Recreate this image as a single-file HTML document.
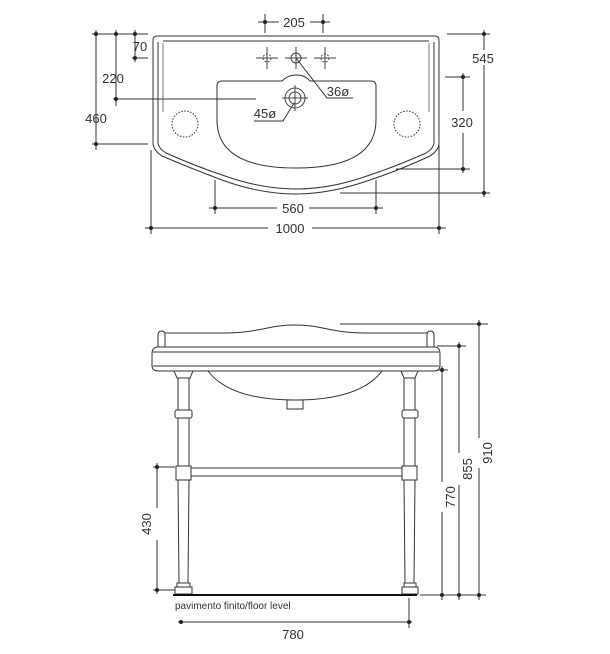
<!DOCTYPE html>
<html><head><meta charset="utf-8"><style>
html,body{margin:0;padding:0;background:#fff;}
svg{display:block;}
text{font-family:"Liberation Sans",sans-serif;fill:#333;}
</style></head><body>
<svg width="610" height="654" viewBox="0 0 610 654" xmlns="http://www.w3.org/2000/svg">
<g fill="none" stroke="#333" stroke-width="1">
<!-- TOP VIEW outline -->
<path d="M153,40 Q153,36 157,36 L435,36 Q439,36 439,40 L439,143 Q439,150 430,156 Q400,170 370,180 Q330,194 296,194 Q260,194 222,180 Q190,168 162,156 Q153,150 153,143 Z"/>
<path d="M158,42 L158,142 Q158,148 166,153 Q195,166 225,176 Q262,189 296,189 Q330,189 367,176 Q397,166 426,153 Q434,148 434,142 L434,42"/>
<line x1="163" y1="41" x2="429" y2="41" stroke="#777" stroke-width="1.6"/>
<line x1="163" y1="43" x2="163" y2="112" stroke="#777"/>
<line x1="429" y1="43" x2="429" y2="112" stroke="#777"/>
<!-- basin -->
<path d="M222,81 L282,81 Q288,75 296,75 Q305,75 310,81 L371,81 Q376,81 376,86 L376,120 Q376,168 296,168 Q217,168 217,120 L217,86 Q217,81 222,81 Z"/>
<!-- taps -->
<g stroke="#444">
<circle cx="267" cy="58" r="4" stroke-dasharray="2,1.5"/><line x1="256" y1="58" x2="278" y2="58"/><line x1="267" y1="47" x2="267" y2="69"/>
<circle cx="296" cy="58" r="5"/><line x1="285" y1="58" x2="307" y2="58"/><line x1="296" y1="47" x2="296" y2="69"/>
<circle cx="325" cy="58" r="4" stroke-dasharray="2,1.5"/><line x1="314" y1="58" x2="336" y2="58"/><line x1="325" y1="47" x2="325" y2="69"/>
<circle cx="295" cy="98" r="10"/><circle cx="295" cy="98" r="6"/>
<line x1="282" y1="98" x2="308" y2="98"/><line x1="295" y1="85" x2="295" y2="111"/>
</g>
<circle cx="185" cy="124" r="13" stroke-dasharray="1.5,1.5"/>
<circle cx="407" cy="124" r="13" stroke-dasharray="1.5,1.5"/>
<!-- leaders -->
<polyline points="296,58 327,98 353,98"/>
<polyline points="294,103 283,121 254,121"/>
<!-- dims top -->
<line x1="265" y1="14" x2="265" y2="33"/><line x1="323" y1="14" x2="323" y2="33"/>
<line x1="258" y1="22" x2="279" y2="22"/><line x1="310" y1="22" x2="330" y2="22"/>
<line x1="96" y1="30" x2="96" y2="150"/><line x1="116" y1="30" x2="116" y2="106"/><line x1="135" y1="30" x2="135" y2="62"/>
<line x1="92" y1="34" x2="148" y2="34"/>
<line x1="132" y1="58" x2="148" y2="58"/>
<line x1="113" y1="99" x2="256" y2="99"/>
<line x1="92" y1="144" x2="148" y2="144"/>
<line x1="447" y1="34" x2="490" y2="34"/><line x1="484" y1="30" x2="484" y2="50"/><line x1="484" y1="65" x2="484" y2="197"/>
<line x1="340" y1="193" x2="490" y2="193"/>
<line x1="445" y1="77" x2="470" y2="77"/><line x1="463" y1="73" x2="463" y2="111"/><line x1="463" y1="133" x2="463" y2="173"/>
<line x1="396" y1="169" x2="470" y2="169"/>
<line x1="215" y1="180" x2="215" y2="214"/><line x1="376" y1="180" x2="376" y2="214"/>
<line x1="209" y1="208" x2="277" y2="208"/><line x1="309" y1="208" x2="383" y2="208"/>
<line x1="151" y1="150" x2="151" y2="234"/><line x1="439" y1="145" x2="439" y2="234"/>
<line x1="145" y1="228" x2="268" y2="228"/><line x1="312" y1="228" x2="446" y2="228"/>

<!-- SIDE VIEW -->
<path d="M165,333 L225,333 C258,333 268,325 295,325 C322,325 332,333 365,333 L428,333"/>
<path d="M158,347 L158,335 Q158,331 161.5,331 Q165,331 165,335 L165,347"/>
<path d="M427,347 L427,335 Q427,331 430.5,331 Q434,331 434,335 L434,347"/>
<path d="M158,347 L434,347 Q440,347 440,354 L440,365 Q440,371 434,371 L158,371 Q152,371 152,365 L152,354 Q152,347 158,347 Z"/>
<line x1="153" y1="352" x2="439" y2="352"/><line x1="153" y1="366" x2="439" y2="366"/>
<path d="M208,371 Q230,400 295,400 Q360,400 382,371"/>
<rect x="287" y="400" width="16" height="9"/>
<!-- legs -->
<g>
<path d="M174,371 L193,371 L190,378 L177,378 Z"/>
<line x1="178" y1="378" x2="178" y2="410"/><line x1="189" y1="378" x2="189" y2="410"/>
<rect x="175" y="410" width="17" height="8" rx="2"/>
<line x1="178" y1="418" x2="178" y2="466"/><line x1="189" y1="418" x2="189" y2="466"/>
<rect x="176" y="466" width="15" height="14"/>
<line x1="178" y1="480" x2="179" y2="583"/><line x1="189" y1="480" x2="188" y2="583"/>
<rect x="177" y="583" width="13" height="4"/><rect x="175" y="587" width="17" height="7"/>
</g>
<g>
<path d="M401,371 L418,371 L415,378 L404,378 Z"/>
<line x1="404" y1="378" x2="404" y2="410"/><line x1="415" y1="378" x2="415" y2="410"/>
<rect x="402" y="410" width="16" height="8" rx="2"/>
<line x1="404" y1="418" x2="404" y2="466"/><line x1="415" y1="418" x2="415" y2="466"/>
<rect x="402" y="466" width="15" height="14"/>
<line x1="404" y1="480" x2="405" y2="583"/><line x1="415" y1="480" x2="414" y2="583"/>
<rect x="404" y="583" width="12" height="4"/><rect x="402" y="587" width="16" height="7"/>
</g>
<line x1="191" y1="468" x2="402" y2="468"/><line x1="191" y1="476" x2="402" y2="476"/>
<line x1="173" y1="595" x2="417" y2="595" stroke="#111" stroke-width="2"/>
<!-- side dims -->
<line x1="340" y1="324" x2="488" y2="324"/><line x1="479" y1="320" x2="479" y2="438"/><line x1="479" y1="468" x2="479" y2="600"/>
<line x1="437" y1="346" x2="466" y2="346"/><line x1="459" y1="342" x2="459" y2="453"/><line x1="459" y1="485" x2="459" y2="600"/>
<line x1="437" y1="370" x2="448" y2="370"/><line x1="442" y1="366" x2="442" y2="482"/><line x1="442" y1="512" x2="442" y2="600"/>
<line x1="420" y1="595" x2="486" y2="595"/>
<line x1="153" y1="467" x2="175" y2="467"/><line x1="153" y1="590" x2="175" y2="590"/>
<line x1="157" y1="463" x2="157" y2="508"/><line x1="157" y1="540" x2="157" y2="594"/>
<line x1="409" y1="598" x2="409" y2="628"/>
<line x1="178" y1="622" x2="412" y2="622"/>
</g>
<!-- dots -->
<g fill="#222">
<circle cx="265" cy="22" r="2"/><circle cx="323" cy="22" r="2"/>
<circle cx="96" cy="34" r="2"/><circle cx="116" cy="34" r="2"/><circle cx="135" cy="34" r="2"/>
<circle cx="135" cy="58" r="2"/><circle cx="116" cy="99" r="2"/><circle cx="96" cy="144" r="2"/>
<circle cx="484" cy="34" r="2"/><circle cx="484" cy="193" r="2"/>
<circle cx="463" cy="77" r="2"/><circle cx="463" cy="169" r="2"/>
<circle cx="215" cy="208" r="2"/><circle cx="376" cy="208" r="2"/>
<circle cx="151" cy="228" r="2"/><circle cx="439" cy="228" r="2"/>
<circle cx="479" cy="324" r="2"/><circle cx="479" cy="595" r="2"/>
<circle cx="459" cy="346" r="2"/><circle cx="459" cy="595" r="2"/>
<circle cx="442" cy="370" r="2"/><circle cx="442" cy="595" r="2"/>
<circle cx="157" cy="467" r="2"/><circle cx="157" cy="590" r="2"/>
<circle cx="181" cy="622" r="2"/><circle cx="409" cy="622" r="2"/>
</g>
<g font-size="13">
<text x="294" y="27" text-anchor="middle">205</text>
<text x="140" y="51" text-anchor="middle">70</text>
<text x="113" y="83" text-anchor="middle">220</text>
<text x="96" y="123" text-anchor="middle">460</text>
<text x="483" y="63" text-anchor="middle">545</text>
<text x="462" y="127" text-anchor="middle">320</text>
<text x="338" y="96" text-anchor="middle">36ø</text>
<text x="265" y="118" text-anchor="middle">45ø</text>
<text x="293" y="213" text-anchor="middle">560</text>
<text x="290" y="233" text-anchor="middle">1000</text>
<text x="293" y="639" text-anchor="middle">780</text>
<text transform="translate(151,524) rotate(-90)" text-anchor="middle">430</text>
<text transform="translate(455,497) rotate(-90)" text-anchor="middle">770</text>
<text transform="translate(472,469) rotate(-90)" text-anchor="middle">855</text>
<text transform="translate(492,453) rotate(-90)" text-anchor="middle">910</text>
</g>
<text x="175" y="609" font-size="10">pavimento finito/floor level</text>
</svg>
</body></html>
